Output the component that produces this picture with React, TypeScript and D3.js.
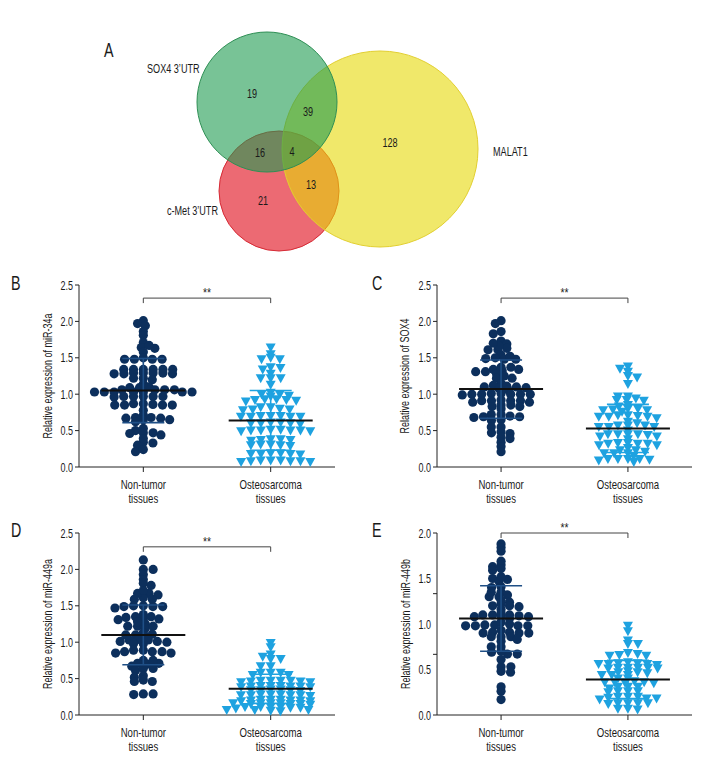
import React from "react";
import * as d3 from "d3";

// ---------- DATA ----------
const groups = ["Non-tumor tissues", "Osteosarcoma tissues"];
const groupLines = [["Non-tumor", "tissues"], ["Osteosarcoma", "tissues"]];

const vennSets = ["SOX4 3\u2019UTR", "c-Met 3\u2019UTR", "MALAT1"];
const vennCounts = [19, 39, 16, 4, 128, 13, 21]; // SOX4 only, SOX4∩MALAT1, SOX4∩cMet, all, MALAT1 only, cMet∩MALAT1, cMet only

const B_NON = [2.01, 1.97, 1.94, 1.86, 1.81, 1.71, 1.63, 1.64, 1.67, 1.58, 1.50, 1.48, 1.48, 1.48, 1.48,
  1.34, 1.34, 1.34, 1.34, 1.34, 1.34, 1.29, 1.29, 1.29, 1.29, 1.28, 1.28, 1.28, 1.20, 1.22, 1.22, 1.14,
  1.09, 1.10, 1.09, 1.06, 1.06, 1.06, 1.06, 1.03, 1.03, 1.03, 1.03, 1.03, 1.03, 1.03,
  0.96, 0.97, 0.97, 0.97, 0.97, 0.97, 0.87, 0.85, 0.85, 0.85, 0.85, 0.86, 0.87, 0.78, 0.71,
  0.68, 0.67, 0.65, 0.62, 0.65, 0.67, 0.68, 0.50, 0.53, 0.46, 0.44, 0.47, 0.47, 0.34, 0.30, 0.39, 0.33, 0.21, 0.24];
const B_OST = [1.64, 1.55, 1.50, 1.48, 1.48, 1.37, 1.36, 1.34, 1.28, 1.22, 1.22, 1.22, 1.13,
  1.02, 1.00, 1.00, 0.98, 0.97, 0.93, 0.92, 0.91, 0.92, 0.90, 0.93, 0.82, 0.80, 0.79, 0.82, 0.78, 0.79,
  0.70, 0.69, 0.69, 0.70, 0.69, 0.70, 0.69, 0.61, 0.60, 0.60, 0.61, 0.60, 0.59,
  0.51, 0.50, 0.49, 0.50, 0.51, 0.50, 0.49, 0.50, 0.38, 0.37, 0.36, 0.38, 0.37,
  0.31, 0.30, 0.29, 0.31, 0.30, 0.19, 0.18, 0.18, 0.19, 0.17, 0.18,
  0.09, 0.08, 0.07, 0.08, 0.09, 0.07, 0.08, 0.09];
const B_MEAN = [1.05, 0.64];
const B_SD = [0.44, 0.41];

const C_NON = [2.01, 1.97, 1.86, 1.83, 1.73, 1.69, 1.63, 1.61, 1.61, 1.66, 1.70,
  1.54, 1.50, 1.48, 1.48, 1.49, 1.52, 1.34, 1.32, 1.37, 1.37, 1.34, 1.31, 1.28, 1.31, 1.22, 1.15, 1.22, 1.25,
  1.12, 1.10, 1.11, 1.10, 1.09, 1.08, 1.06, 1.00, 1.00, 0.99, 1.01, 1.00, 1.01, 1.00, 1.00,
  0.91, 0.92, 0.89, 0.91, 0.89, 0.91, 0.91, 0.83, 0.85, 0.80, 0.83, 0.85,
  0.72, 0.70, 0.72, 0.69, 0.69, 0.65, 0.64, 0.68, 0.55, 0.55, 0.47, 0.46, 0.48, 0.41, 0.34, 0.39, 0.28, 0.21];
const C_OST = [1.38, 1.35, 1.31, 1.25, 1.23, 1.14, 0.97, 0.92, 0.92, 0.94, 0.91, 0.97,
  0.80, 0.79, 0.80, 0.85, 0.83, 0.78, 0.78, 0.76, 0.71, 0.69, 0.70, 0.67, 0.69, 0.69, 0.71,
  0.62, 0.57, 0.55, 0.57, 0.55, 0.60, 0.57, 0.55, 0.50, 0.45, 0.42, 0.45, 0.42, 0.45, 0.44, 0.45,
  0.38, 0.32, 0.30, 0.33, 0.32, 0.32, 0.30, 0.33, 0.26, 0.21, 0.19, 0.23, 0.19, 0.23, 0.19,
  0.15, 0.11, 0.11, 0.09, 0.07, 0.10, 0.11, 0.11];
const C_MEAN = [1.07, 0.53];
const C_SD = [0.40, 0.33];

const D_NON = [2.13, 2.00, 2.00, 1.93, 1.86, 1.78, 1.81, 1.67, 1.65, 1.61, 1.67, 1.71, 1.59, 1.59,
  1.50, 1.50, 1.47, 1.49, 1.49, 1.49, 1.38, 1.34, 1.32, 1.32, 1.35, 1.35, 1.31,
  1.25, 1.22, 1.19, 1.22, 1.22, 1.28, 1.13, 1.10, 1.08, 1.10, 1.11,
  0.98, 1.01, 1.00, 1.03, 1.04, 1.03, 1.01, 0.98, 0.89, 0.87, 0.85, 0.85, 0.87, 0.89, 0.87,
  0.75, 0.71, 0.70, 0.67, 0.71, 0.75, 0.61, 0.64, 0.64, 0.54, 0.52, 0.46, 0.46, 0.48, 0.29, 0.28, 0.29];
const D_OST = [0.99, 0.93, 0.80, 0.77, 0.77, 0.83, 0.67, 0.58, 0.58, 0.55, 0.55, 0.58, 0.67,
  0.47, 0.46, 0.47, 0.45, 0.47, 0.46, 0.47, 0.45, 0.40, 0.39, 0.40, 0.38, 0.39, 0.40, 0.39, 0.38,
  0.34, 0.35, 0.33, 0.34, 0.35, 0.34, 0.28, 0.27, 0.27, 0.28, 0.26, 0.27, 0.28, 0.27,
  0.21, 0.20, 0.21, 0.19, 0.20, 0.21, 0.20, 0.19, 0.16, 0.15, 0.16, 0.14, 0.16, 0.15, 0.16, 0.15,
  0.11, 0.10, 0.11, 0.09, 0.11, 0.10, 0.11, 0.07, 0.06, 0.07, 0.05, 0.07];
const D_MEAN = [1.10, 0.36];
const D_SD = [0.41, 0.20];

const E_NON = [1.88, 1.84, 1.80, 1.69, 1.65, 1.63, 1.59, 1.61, 1.50, 1.47, 1.49, 1.52,
  1.41, 1.35, 1.32, 1.30, 1.30, 1.35, 1.40, 1.24, 1.19, 1.16, 1.20, 1.20, 1.22, 1.26,
  1.06, 1.10, 1.08, 1.10, 1.10, 1.08, 1.09, 1.12, 1.00, 0.98, 0.99, 0.98, 1.02, 1.08, 0.98, 0.99, 0.98,
  0.93, 0.90, 0.91, 0.90, 0.91, 0.90, 0.86, 0.86, 0.83, 0.81, 0.86,
  0.75, 0.75, 0.67, 0.67, 0.69, 0.70, 0.53, 0.61, 0.53, 0.48, 0.47, 0.31, 0.26, 0.17];
const E_OST = [0.98, 0.92, 0.82, 0.78, 0.78, 0.65, 0.66, 0.65, 0.67, 0.68,
  0.58, 0.56, 0.57, 0.56, 0.55, 0.57, 0.56, 0.52, 0.52, 0.51, 0.52, 0.51, 0.52,
  0.44, 0.48, 0.44, 0.47, 0.47, 0.44, 0.46, 0.40, 0.40, 0.36, 0.36, 0.37, 0.36, 0.35, 0.36,
  0.31, 0.31, 0.26, 0.26, 0.25, 0.26, 0.29, 0.31, 0.20, 0.18, 0.20, 0.17, 0.20, 0.19, 0.18,
  0.13, 0.13, 0.12, 0.13, 0.13, 0.07, 0.06, 0.07];
const E_MEAN = [1.06, 0.39];
const E_SD = [0.36, 0.21];

const TICKS_25 = [0, 0.5, 1.0, 1.5, 2.0, 2.5];
const TICKS_20 = [0, 0.5, 1.0, 1.5, 2.0];
const MARKS_20 = [0, 2 / 3, 4 / 3, 2.0];

// ---------- STYLE / LAYOUT ----------
const FONT = "'Liberation Sans', Arial, sans-serif";
const SX = 0.7; // horizontal condensing to mimic a condensed face
const NAVY = "#0c2f5c";
const NAVY_BAR = "#1f4f86";
const SKY = "#1ea2e0";
const INK = "#1a1a1a";

const panels = [
  { letter: "B", ylabel: "Relative expression of miR-34a", data: [B_NON, B_OST], mean: B_MEAN, sd: B_SD,
    x0: 79, x1: 335, yTop: 285, yBot: 467, max: 2.5, labels: TICKS_25, marks: TICKS_25, bracket: 2.32, lx: 11, ly: 290, ylx: 52 },
  { letter: "C", ylabel: "Relative expression of SOX4", data: [C_NON, C_OST], mean: C_MEAN, sd: C_SD,
    x0: 437, x1: 692, yTop: 285, yBot: 467, max: 2.5, labels: TICKS_25, marks: TICKS_25, bracket: 2.32, lx: 372, ly: 290, ylx: 409 },
  { letter: "D", ylabel: "Relative expression of miR-449a", data: [D_NON, D_OST], mean: D_MEAN, sd: D_SD,
    x0: 79, x1: 335, yTop: 533, yBot: 715, max: 2.5, labels: TICKS_25, marks: TICKS_25, bracket: 2.31, lx: 11, ly: 537, ylx: 52 },
  { letter: "E", ylabel: "Relative expression of miR-449b", data: [E_NON, E_OST], mean: E_MEAN, sd: E_SD,
    x0: 437, x1: 692, yTop: 533, yBot: 715, max: 2.0, labels: TICKS_20, marks: MARKS_20, bracket: 2.0, lx: 372, ly: 537, ylx: 410 },
];

function T({ x, y, size, anchor = "start", rot = false, sx = SX, children }: any) {
  return (
    <text
      transform={`translate(${x},${y})${rot ? " rotate(-90)" : ""} scale(${sx},1)`}
      fontSize={size}
      textAnchor={anchor}
      fill={INK}
      fontFamily={FONT}
    >
      {children}
    </text>
  );
}

// Beeswarm with an elliptical footprint: full spacing horizontally, partial overlap allowed vertically.
function swarm(values: number[], y: (v: number) => number, D: number, vy: number) {
  const k = D / vy;
  const pts = values.map((v) => ({ y: y(v), yy: y(v) * k, x: 0 }));
  const order = [...pts].sort((a, b) => a.yy - b.yy);
  const placed: { x: number; yy: number }[] = [];
  let flip = 1;
  for (const p of order) {
    const cands = [0];
    for (const q of placed) {
      const dy = Math.abs(q.yy - p.yy);
      if (dy < D) {
        const dx = Math.sqrt(D * D - dy * dy);
        cands.push(q.x + dx, q.x - dx);
      }
    }
    flip = -flip;
    cands.sort((a, b) => Math.abs(a) - Math.abs(b) || (a - b) * flip);
    for (const c of cands) {
      if (placed.every((q) => (q.x - c) ** 2 + (q.yy - p.yy) ** 2 >= D * D - 0.01)) {
        p.x = c;
        break;
      }
    }
    placed.push(p);
  }
  return pts;
}

function Panel({ p }: { p: (typeof panels)[number] }) {
  const y = d3.scaleLinear().domain([0, p.max]).range([p.yBot, p.yTop]);
  const x = d3.scalePoint<string>().domain(groups).range([p.x0, p.x1]).padding(0.505);
  const cx = groups.map((g) => x(g) as number);
  const yb = y(p.bracket);
  return (
    <g>
      <T x={p.lx} y={p.ly} size={21} sx={0.68}>{p.letter}</T>
      {/* axes */}
      <line x1={p.x0} x2={p.x0} y1={p.yTop} y2={p.yBot} stroke="#222" strokeWidth={1} />
      <line x1={p.x0} x2={p.x1} y1={p.yBot} y2={p.yBot} stroke="#222" strokeWidth={1} />
      {p.marks.map((t) => (
        <line key={"m" + t} x1={p.x0 - 4} x2={p.x0} y1={y(t)} y2={y(t)} stroke="#222" />
      ))}
      {p.labels.map((t) => (
        <T key={"l" + t} x={p.x0 - 6} y={y(t) + 4.5} size={12.5} anchor="end" sx={0.72}>
          {d3.format(".1f")(t)}
        </T>
      ))}
      {cx.map((c, i) => (
        <g key={"c" + i}>
          <line x1={c} x2={c} y1={p.yBot} y2={p.yBot + 5} stroke="#222" />
          {groupLines[i].map((s, j) => (
            <T key={j} x={c} y={p.yBot + 22 + j * 14} size={12} anchor="middle" sx={0.8}>{s}</T>
          ))}
        </g>
      ))}
      <T x={p.ylx} y={(p.yTop + p.yBot) / 2} size={12.5} anchor="middle" rot sx={0.72}>
        {p.ylabel}
      </T>
      {/* bracket */}
      <path d={`M${cx[0]},${yb + 5}V${yb}H${cx[1]}V${yb + 5}`} fill="none" stroke="#444" strokeWidth={1} />
      <T x={(cx[0] + cx[1]) / 2} y={yb - 1} size={13} anchor="middle" sx={0.8}>**</T>
      {/* points */}
      {swarm(p.data[0], y, 9.8, 3.6).map((d, i) => (
        <circle key={"n" + i} cx={cx[0] + d.x} cy={d.y} r={4.6} fill={NAVY} />
      ))}
      {swarm(p.data[1], y, 10, 3.6).map((d, i) => (
        <path key={"o" + i} transform={`translate(${cx[1] + d.x},${d.y})`} d="M-5,-4L5,-4L0,5Z" fill={SKY} />
      ))}
      {/* error bars + mean */}
      {cx.map((c, i) => {
        const col = i === 0 ? NAVY_BAR : SKY;
        const hi = y(p.mean[i] + p.sd[i]);
        const lo = y(Math.max(0, p.mean[i] - p.sd[i]));
        return (
          <g key={"e" + i}>
            <line x1={c} x2={c} y1={hi} y2={lo} stroke={col} strokeWidth={1.6} />
            <line x1={c - 21} x2={c + 21} y1={hi} y2={hi} stroke={col} strokeWidth={1.6} />
            <line x1={c - 21} x2={c + 21} y1={lo} y2={lo} stroke={col} strokeWidth={1.6} />
            <line x1={c - 42} x2={c + 42} y1={y(p.mean[i])} y2={y(p.mean[i])} stroke="#111" strokeWidth={2} />
          </g>
        );
      })}
    </g>
  );
}

// Venn layout
const vennCircles = [
  { set: 1, cx: 279, cy: 191, r: 60, fill: "#df0716", stroke: "#d62a35" },
  { set: 2, cx: 380, cy: 149, r: 98, fill: "#e6d907", stroke: "#e2cf30" },
  { set: 0, cx: 267, cy: 102, r: 70, fill: "#1e9b50", stroke: "#2f8f55" },
];
const vennNumPos = [[252, 93], [308, 111], [260, 152], [292, 151], [390, 142], [311, 184], [263, 200]];

export default function App() {
  return (
    <svg width={720} height={780} style={{ display: "block", margin: "-8px 0 0 -8px" }}>
      <rect width={720} height={780} fill="#fff" />
      <T x={104} y={57} size={21} sx={0.68}>A</T>
      {vennCircles.map((c) => (
        <circle key={c.set} cx={c.cx} cy={c.cy} r={c.r} fill={c.fill} fillOpacity={0.6} stroke={c.stroke} strokeWidth={1} />
      ))}
      {vennCounts.map((n, i) => (
        <T key={i} x={vennNumPos[i][0]} y={vennNumPos[i][1] + 4.5} size={13} anchor="middle">{n}</T>
      ))}
      <T x={147} y={73} size={13}>{vennSets[0]}</T>
      <T x={218} y={215} size={13} anchor="end">{vennSets[1]}</T>
      <T x={493} y={156} size={13}>{vennSets[2]}</T>
      {panels.map((p) => (
        <Panel key={p.letter} p={p} />
      ))}
    </svg>
  );
}
